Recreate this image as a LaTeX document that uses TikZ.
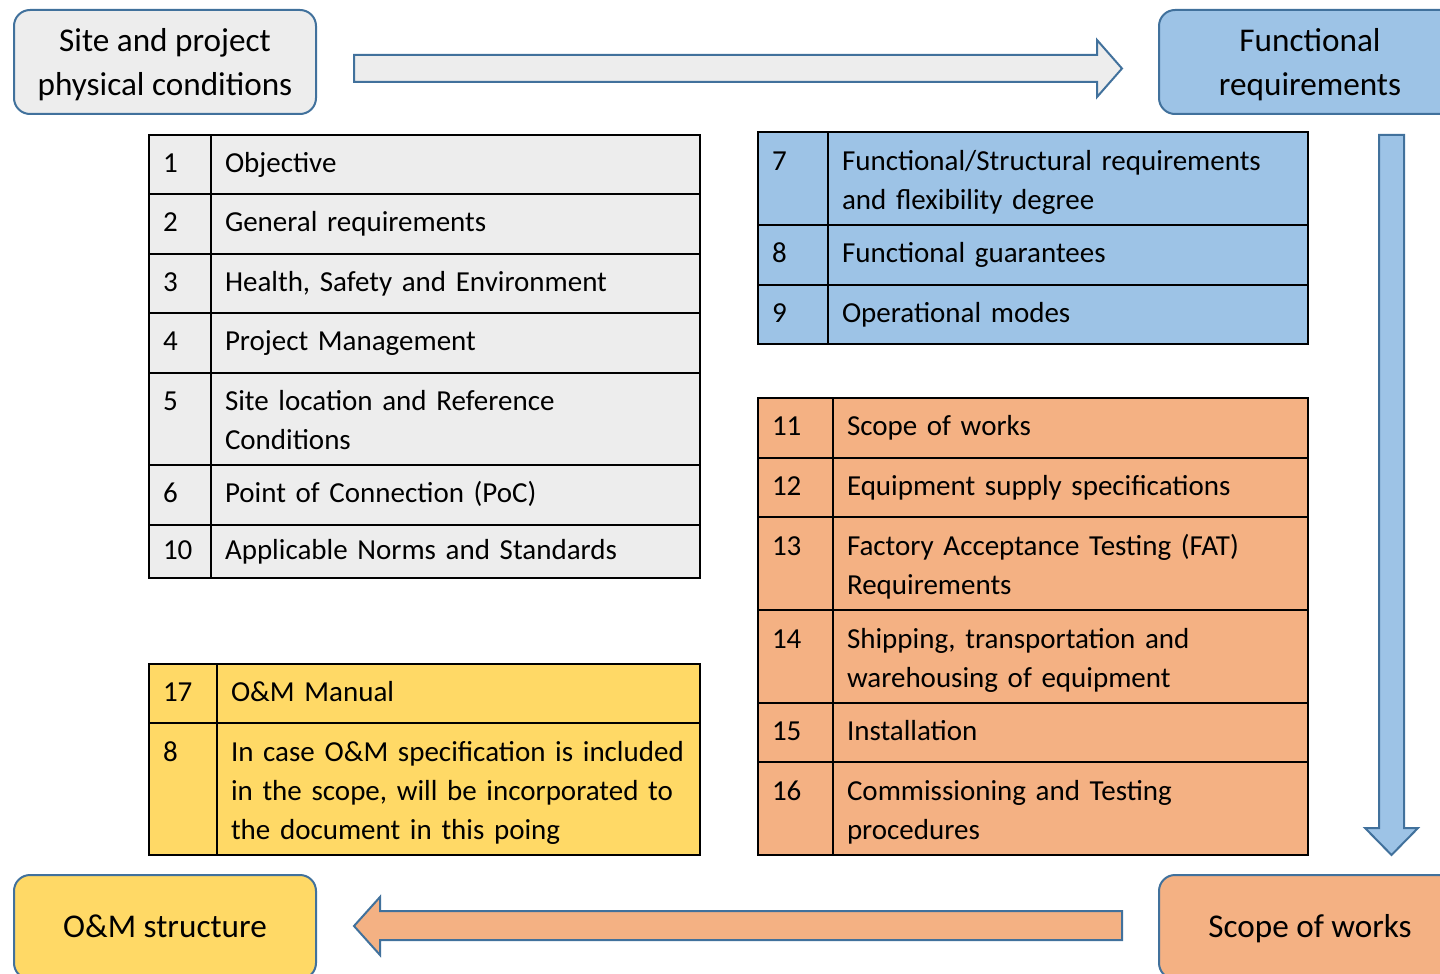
\documentclass[tikz,border=0pt]{standalone}
\usepackage{fontspec}
\setmainfont{Carlito}
\definecolor{gry}{HTML}{EDEDED}
\definecolor{blu}{HTML}{9DC3E6}
\definecolor{org}{HTML}{F4B183}
\definecolor{ylw}{HTML}{FFD966}
\definecolor{bdr}{HTML}{41719C}
\newcommand\cellfont{\fontsize{14.5}{19.5}\selectfont}
\newcommand\boxfont{\fontsize{16.6}{22}\selectfont}
\newcommand\tfix{\rule{0pt}{16.9pt}}
\newcommand\bfixtwo{\rule{0pt}{18.4pt}}
\newcommand\bfixone{\rule{0pt}{17.4pt}}
\tikzset{
  x=0.5pt, y=-0.5pt,
  cellbox/.style={draw=black, line width=1.1pt, rectangle, inner xsep=7pt, inner ysep=0pt,
    outer sep=0pt, align=left, font=\cellfont, execute at begin node=\strut,
    execute at end node=\strut, anchor=north west},
  rbox/.style={draw=bdr, line width=1pt, rectangle, rounded corners=8pt, minimum width=151pt,
    minimum height=52pt, align=center, font=\boxfont, anchor=north west, inner sep=0pt,
    execute at begin node=\strut, execute at end node=\strut},
  barrow/.style={draw=bdr, line width=1pt, line join=miter}
}
% name, x, y, num text width, text text width, height, num, text, fill
\newcommand\trow[9]{%
  \node[cellbox, fill=#9, text width=#4, minimum height=#6] (#1n) at (#2,#3) {#7};
  \node[cellbox, fill=#9, text width=#5, minimum height=#6] (#1t) at (#1n.north east) {#8};}
\begin{document}
\begin{tikzpicture}
\useasboundingbox (0,0) rectangle (1440,974);
\clip (0,0) rectangle (1440,974);

% rounded boxes
\node[rbox, fill=gry] (site) at (13,9) {\bfixtwo Site and project\\physical conditions};
\node[rbox, fill=blu] (func) at (1158,9) {\bfixtwo Functional\\requirements};
\node[rbox, fill=org] (scope) at (1158,874) {\bfixone Scope of works};
\node[rbox, fill=ylw] (om) at (13,874) {\bfixone O\&M structure};

% block arrows
\draw[barrow, fill=gry] (354,55) -- (1097,55) -- (1097,40) -- (1122,68.5) -- (1097,97)
  -- (1097,82) -- (354,82) -- cycle;
\draw[barrow, fill=blu] (1379,135) -- (1404,135) -- (1404,828) -- (1418,828) -- (1391.5,855)
  -- (1365,828) -- (1379,828) -- cycle;
\draw[barrow, fill=org] (1122,911) -- (380,911) -- (380,897) -- (354,926) -- (380,955)
  -- (380,940) -- (1122,940) -- cycle;

% left grey table
\trow{g1}{149}{135}{17pt}{230.5pt}{29.5pt}{1}{Objective}{gry}
\trow{g2}{149}{194}{17pt}{230.5pt}{30pt}{2}{General requirements}{gry}
\trow{g3}{149}{254}{17pt}{230.5pt}{29.5pt}{3}{Health, Safety and Environment}{gry}
\trow{g4}{149}{313}{17pt}{230.5pt}{30pt}{4}{Project Management}{gry}
\trow{g5}{149}{373}{17pt}{230.5pt}{46pt}{\tfix 5\\~}{\tfix Site location and Reference\\Conditions}{gry}
\trow{g6}{149}{465}{17pt}{230.5pt}{30pt}{6}{Point of Connection (PoC)}{gry}
\trow{g7}{149}{525}{17pt}{230.5pt}{26.5pt}{10}{Applicable Norms and Standards}{gry}

% blue table
\trow{b1}{758}{132}{21pt}{226pt}{46.5pt}{\tfix 7\\~}{\tfix Functional/Structural requirements\\and flexibility degree}{blu}
\trow{b2}{758}{225}{21pt}{226pt}{30pt}{8}{Functional guarantees}{blu}
\trow{b3}{758}{285}{21pt}{226pt}{29.5pt}{9}{Operational modes}{blu}

% orange table
\trow{o1}{758}{398}{23.5pt}{223.5pt}{30pt}{11}{Scope of works}{org}
\trow{o2}{758}{458}{23.5pt}{223.5pt}{29.5pt}{12}{Equipment supply specifications}{org}
\trow{o3}{758}{517}{23.5pt}{223.5pt}{46.5pt}{\tfix 13\\~}{\tfix Factory Acceptance Testing (FAT)\\Requirements}{org}
\trow{o4}{758}{610}{23.5pt}{223.5pt}{46.5pt}{\tfix 14\\~}{\tfix Shipping, transportation and\\warehousing of equipment}{org}
\trow{o5}{758}{703}{23.5pt}{223.5pt}{29.5pt}{15}{Installation}{org}
\trow{o6}{758}{762}{23.5pt}{223.5pt}{46.5pt}{\tfix 16\\~}{\tfix Commissioning and Testing\\procedures}{org}

% yellow table
\trow{y1}{149}{664}{20pt}{227.5pt}{29.5pt}{17}{O\&M Manual}{ylw}
\trow{y2}{149}{723}{20pt}{227.5pt}{66pt}{\tfix 8\\~\\~}{\tfix In case O\&M specification is included\\in the scope, will be incorporated to\\the document in this poing}{ylw}
\end{tikzpicture}
\end{document}
